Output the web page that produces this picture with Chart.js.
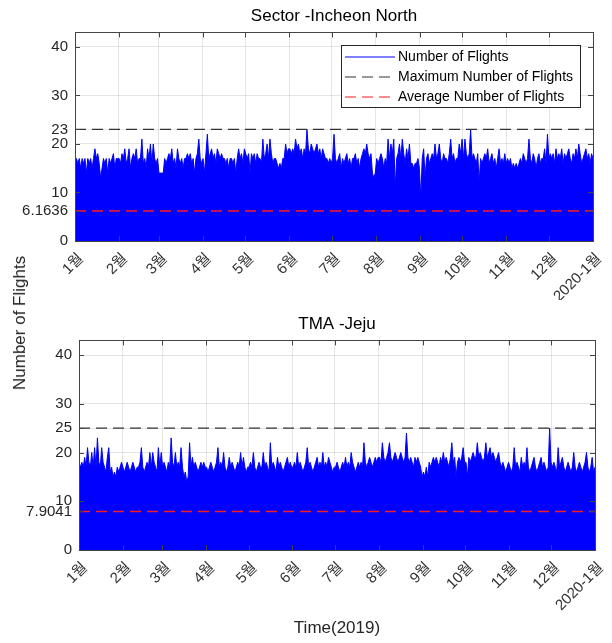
<!DOCTYPE html>
<html>
<head>
<meta charset="utf-8">
<title>Number of Flights 2019</title>
<script src="https://cdn.jsdelivr.net/npm/chart.js"></script>
<style>
  body { margin: 0; background: #fff; }
  #wrap { position: relative; width: 612px; height: 643px; font-family: "Liberation Sans", Arial, sans-serif; }
  canvas { position: absolute; left: 0; }
  #north { top: 0; }
  #jeju { top: 300px; }
  #ylabel { position: absolute; left: 20px; top: 323px; transform: translate(-50%, -50%) rotate(-90deg);
            font-size: 17px; color: #262626; white-space: nowrap; }
</style>
</head>
<body>
<div id="wrap">
  <canvas id="north" width="612" height="300"></canvas>
  <canvas id="jeju" width="612" height="343"></canvas>
  <div id="ylabel">Number of Flights</div>
</div>

<script>
const monthLabels = ['1월', '2월', '3월', '4월', '5월', '6월', '7월', '8월', '9월', '10월', '11월', '12월', '2020-1월'];
const monthStarts = [0, 31, 59, 90, 120, 151, 181, 212, 243, 273, 304, 334, 365];
const baseTicks = [0, 10, 20, 30, 40];

// daily peak counts, one row per month
const northFlights = [
  17,17,16,17,15,17,16,17,14,17,16,17,15,17,19,17,18,16,13,15,17,16,17,14,17,16,17,18,15,17,17,
  17,16,18,17,19,16,17,19,15,17,18,17,19,16,17,17,21,16,17,15,19,17,20,16,20,17,16,17,
  14,14,14,14,17,16,17,18,17,19,16,17,15,19,17,16,17,15,17,17,18,17,18,16,17,14,17,18,21,17,16,
  17,14,18,22,17,18,19,17,18,16,19,18,17,18,17,17,16,17,15,17,17,16,17,14,17,19,17,18,16,19,
  18,17,18,14,18,17,18,16,18,17,17,16,21,17,18,20,17,21,18,16,17,17,16,15,16,15,17,17,20,18,19,
  19,18,19,18,21,19,20,18,19,17,19,18,23,19,18,20,19,18,19,20,18,19,17,19,18,17,17,16,17,16,
  17,22,17,16,17,18,15,17,16,17,18,16,17,15,17,17,18,16,17,15,17,18,19,18,20,18,17,18,14,13,14,
  17,16,17,18,17,15,17,16,21,17,20,18,21,11,17,18,20,17,21,18,16,19,17,20,16,16,15,16,16,17,15,
  9,17,19,13,17,18,16,17,18,17,20,17,18,20,17,16,18,17,17,16,18,21,17,18,16,17,17,20,18,21,
  17,21,18,17,18,23,17,18,17,16,18,12,17,16,17,18,17,19,16,17,18,16,17,15,17,19,16,17,16,18,16,
  17,16,17,15,16,15,16,15,16,17,16,18,17,16,17,21,17,16,18,17,15,17,18,16,17,17,19,16,22,17,
  18,17,18,16,19,17,18,17,19,16,18,17,18,19,17,16,18,17,19,17,20,18,16,17,18,19,17,18,16,18,17
];
const northMax = 23;
const northAvg = 6.1636;

const jejuFlights = [
  18,17,18,17,19,17,21,18,17,20,17,21,17,23,18,17,21,18,17,16,19,21,16,17,15,16,15,17,16,17,18,
  17,16,17,18,17,16,17,18,17,16,17,17,18,21,17,16,17,18,17,20,17,20,18,17,16,21,17,20,
  17,18,17,16,18,17,23,18,17,20,17,18,17,21,17,15,16,14,15,22,17,19,17,18,17,16,17,18,17,18,17,
  17,16,17,18,17,16,17,18,21,17,18,17,20,17,16,17,19,17,18,17,16,17,18,17,20,17,19,17,16,17,
  17,18,17,20,17,16,17,18,17,17,20,17,18,17,16,22,17,18,17,16,19,17,18,17,16,17,18,19,17,18,17,
  17,18,17,20,17,18,17,16,17,18,21,17,18,17,16,17,18,19,17,18,17,20,17,18,17,19,18,17,16,17,
  17,18,17,16,17,18,17,19,17,18,17,20,18,17,16,17,18,17,18,17,22,18,17,18,19,18,17,18,19,18,19,
  19,18,22,19,18,19,20,22,19,18,19,20,19,18,19,20,19,18,19,24,19,18,19,18,17,19,18,19,18,17,15,
  16,15,17,15,18,17,18,19,18,19,18,17,19,18,20,18,19,18,17,19,22,18,19,15,18,19,18,19,21,18,
  18,15,19,18,19,20,19,19,22,19,20,19,18,19,22,19,20,21,19,20,19,18,19,20,18,17,18,17,16,17,18,
  17,16,17,21,17,18,17,16,19,17,18,17,21,17,16,17,18,19,17,16,17,18,19,17,18,17,16,17,25,18,
  17,18,17,16,21,17,18,19,17,16,17,18,17,16,17,20,17,16,17,18,17,16,17,18,20,17,16,17,19,16,17
];
const jejuMax = 25;
const jejuAvg = 7.9041;

const fontFamily = '"Liberation Sans", Arial, "Noto Sans CJK KR", sans-serif';
const inkColor = '#262626';

// MATLAB style box with inward ticks on all four sides
const boxPlugin = {
  id: 'matlabBox',
  afterDraw(chart) {
    const { ctx, chartArea: a, scales: { x, y } } = chart;
    ctx.save();
    ctx.strokeStyle = '#444';
    ctx.lineWidth = 1;
    ctx.beginPath();
    x.ticks.forEach(t => {
      const px = Math.round(x.getPixelForValue(t.value)) + 0.5;
      ctx.moveTo(px, a.bottom); ctx.lineTo(px, a.bottom - 5);
      ctx.moveTo(px, a.top); ctx.lineTo(px, a.top + 5);
    });
    y.ticks.forEach(t => {
      const py = Math.round(y.getPixelForValue(t.value)) + 0.5;
      ctx.moveTo(a.left, py); ctx.lineTo(a.left + 5, py);
      ctx.moveTo(a.right, py); ctx.lineTo(a.right - 5, py);
    });
    ctx.stroke();
    ctx.strokeRect(Math.round(a.left) + 0.5, Math.round(a.top) + 0.5, Math.round(a.width), Math.round(a.height));
    ctx.restore();
  }
};

// legend box in the top right corner of the plot
const insideLegend = {
  id: 'insideLegend',
  afterDraw(chart, args, opts) {
    if (!opts.show) return;
    const { ctx, chartArea: a } = chart;
    const sets = chart.data.datasets;
    ctx.save();
    ctx.font = '14px ' + fontFamily;
    const textW = Math.max(...sets.map(d => ctx.measureText(d.label).width));
    const w = Math.round(57 + textW + 7), h = 62;
    const left = Math.round(a.right - 13 - w), top = Math.round(a.top + 13);
    ctx.fillStyle = '#fff';
    ctx.fillRect(left, top, w, h);
    ctx.strokeStyle = inkColor;
    ctx.lineWidth = 1;
    ctx.strokeRect(left + 0.5, top + 0.5, w, h);
    sets.forEach((d, i) => {
      const yy = top + 12 + i * 20;
      ctx.strokeStyle = d.borderColor;
      ctx.lineWidth = 1.2;
      ctx.setLineDash(d.borderDash || []);
      ctx.beginPath();
      ctx.moveTo(left + 4, yy);
      ctx.lineTo(left + 54, yy);
      ctx.stroke();
      ctx.setLineDash([]);
      ctx.fillStyle = '#000';
      ctx.textBaseline = 'middle';
      ctx.fillText(d.label, left + 57, yy);
    });
    ctx.restore();
  }
};

function makeChart(id, title, flights, maxVal, avgVal, cfg) {
  const points = flights.map((v, i) => ({ x: i * 365 / (flights.length - 1), y: v }));
  const yTicks = baseTicks.concat([maxVal, avgVal]).sort((a, b) => a - b);

  return new Chart(document.getElementById(id), {
    type: 'line',
    data: {
      datasets: [
        {
          label: 'Number of Flights',
          data: points,
          borderColor: '#0000ff',
          backgroundColor: '#0000ff',
          borderWidth: 1,
          fill: 'origin',
          pointRadius: 0,
          order: 1
        },
        {
          label: 'Maximum Number of Flights',
          data: [{ x: 0, y: maxVal }, { x: 365, y: maxVal }],
          borderColor: '#333333',
          borderWidth: 1.2,
          borderDash: [11, 6],
          pointRadius: 0,
          order: 0
        },
        {
          label: 'Average Number of Flights',
          data: [{ x: 0, y: avgVal }, { x: 365, y: avgVal }],
          borderColor: '#ff1a1a',
          borderWidth: 1.5,
          borderDash: [11, 6],
          pointRadius: 0,
          order: 0
        }
      ]
    },
    options: {
      responsive: false,
      animation: false,
      events: [],
      devicePixelRatio: 1,
      layout: { padding: { top: cfg.padTop, right: cfg.padRight, left: 0, bottom: 0 } },
      plugins: {
        legend: { display: false },
        tooltip: { enabled: false },
        title: {
          display: true,
          text: title,
          fullSize: false,
          color: '#000',
          font: { family: fontFamily, size: 17, weight: 'normal' },
          padding: { top: 6, bottom: 6 }
        },
        insideLegend: { show: cfg.legend }
      },
      scales: {
        x: {
          type: 'linear',
          min: 0,
          max: 365,
          afterBuildTicks: s => { s.ticks = monthStarts.map(v => ({ value: v })); },
          afterFit: s => {
            s.height = cfg.xHeight;
            s.paddingLeft = 0;
            s.paddingRight = 0;
          },
          ticks: {
            autoSkip: false,
            minRotation: 45,
            maxRotation: 45,
            padding: 9,
            labelOffset: 6,
            color: '#333',
            font: { family: fontFamily, size: 15 },
            callback: (v, i) => monthLabels[i]
          },
          grid: { color: 'rgba(0,0,0,0.1)', drawTicks: false },
          border: { display: false },
          title: {
            display: !!cfg.xTitle,
            text: cfg.xTitle || '',
            color: inkColor,
            font: { family: fontFamily, size: 17 },
            padding: { top: 4, bottom: 4 }
          }
        },
        y: {
          min: 0,
          max: 43,
          afterBuildTicks: s => { s.ticks = yTicks.map(v => ({ value: v })); },
          afterFit: s => { s.width = cfg.yWidth; },
          ticks: {
            autoSkip: false,
            padding: 7,
            color: inkColor,
            font: { family: fontFamily, size: 15 },
            callback: v => String(v)
          },
          grid: { color: 'rgba(0,0,0,0.1)', drawTicks: false },
          border: { display: false }
        }
      }
    },
    plugins: [boxPlugin, insideLegend]
  });
}

makeChart('north', 'Sector -Incheon North', northFlights, northMax, northAvg,
  { padTop: 0, padRight: 19, yWidth: 75, xHeight: 59, legend: true });
makeChart('jeju', 'TMA -Jeju', jejuFlights, jejuMax, jejuAvg,
  { padTop: 8, padRight: 17, yWidth: 79, xHeight: 93, legend: false, xTitle: 'Time(2019)' });
</script>
</body>
</html>
